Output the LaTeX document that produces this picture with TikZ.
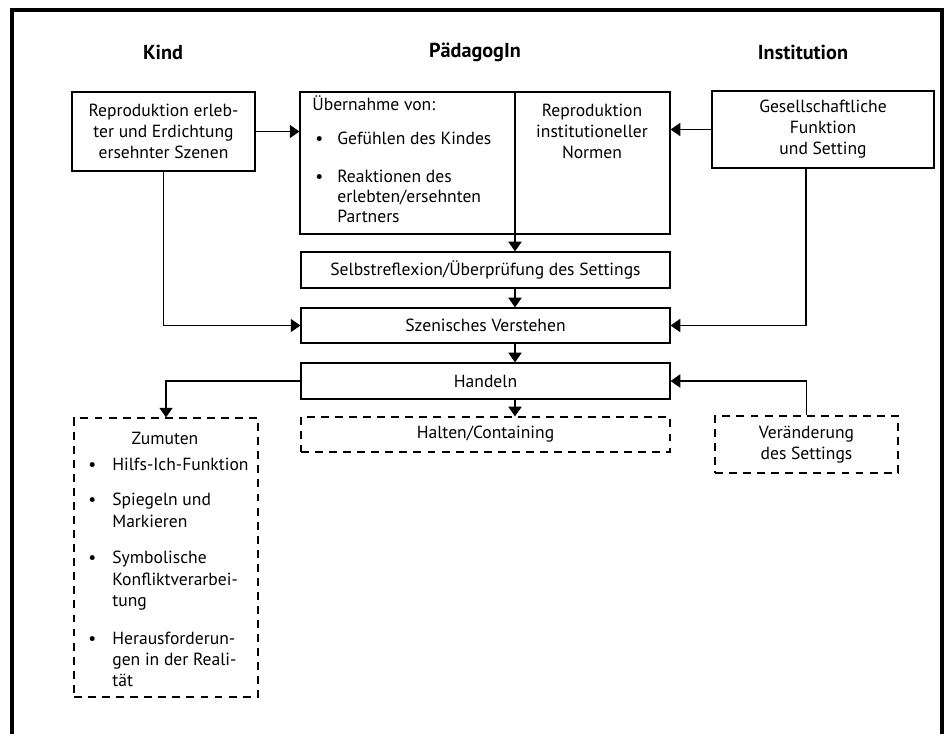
\documentclass[tikz,border=0pt]{standalone}
\usepackage{fontspec}
\setmainfont{PT Sans}
\usetikzlibrary{arrows.meta}
\newcommand\bodyfont{\fontsize{10}{12}\selectfont}
\begin{document}
\begin{tikzpicture}[x=0.02cm,y=-0.02cm,
  box/.style={draw, line width=0.7pt, inner sep=0pt, align=center, font=\bodyfont},
  dbox/.style={box, dash pattern=on 4.5pt off 3.5pt},
  head/.style={font=\fontsize{11.5}{13}\selectfont\bfseries},
  txt/.style={font=\bodyfont, inner sep=0pt, anchor=base west},
  ctxt/.style={font=\bodyfont, inner sep=0pt, align=center},
  conn/.style={line width=0.7pt},
  arr/.style={conn, -{Triangle[length=5.5pt,width=7.5pt]}},
  frame/.style={line width=2.3pt}]
\useasboundingbox (0,0) rectangle (949,734);
% outer frame
\coordinate (fbl) at (12,734);
\coordinate (ftl) at (12,10);
\coordinate (ftr) at (942,10);
\coordinate (fbr) at (942,734);
\draw[frame] (fbl) -- (ftl) -- (ftr) -- (fbr);

% headers
\node[head] (hkind) at (163,52) {Kind};
\node[head] (hped) at (475,52) {PädagogIn};
\node[head] (hinst) at (803,52) {Institution};

% top row
\node[box, minimum width=3.66cm, minimum height=1.58cm] (kid) at (163.5,131.5)
  {Reproduktion erleb-\\ter und Erdichtung\\ersehnter Szenen};
\node[box, minimum width=7.4cm, minimum height=2.84cm] (ped) at (485,163) {};
\node[box, minimum width=4.44cm, minimum height=1.54cm] (inst) at (823,129.5)
  {Gesellschaftliche\\Funktion\\und Setting};

% contents of the PädagogIn box
\node[txt] (p0) at (312,110) {Übernahme von:};
\node[txt] (pb1) at (315,144) {•};
\node[txt] (p1) at (337,144) {Gefühlen des Kindes};
\node[txt] (pb2) at (315,182) {•};
\node[txt] (p2a) at (337,182) {Reaktionen des};
\node[txt] (p2b) at (337,202) {erlebten/ersehnten};
\node[txt] (p2c) at (337,222) {Partners};
\node[ctxt] (pr) at (592,131) {Reproduktion\\institutioneller\\Normen};

% middle column
\node[box, minimum width=7.38cm, minimum height=0.72cm] (selbst) at (485.5,270)
  {Selbstreflexion/Überprüfung des Settings};
\node[box, minimum width=7.38cm, minimum height=0.7cm] (szen) at (485.5,325.5)
  {Szenisches Verstehen};
\node[box, minimum width=7.38cm, minimum height=0.72cm] (hand) at (485.5,381)
  {Handeln};
\node[dbox, minimum width=7.38cm, minimum height=0.7cm] (halten) at (485.5,434.5)
  {Halten/Containing};

% bottom side boxes
\node[dbox, minimum width=3.68cm, minimum height=5.58cm] (zum) at (166,557.5) {};
\node[dbox, minimum width=3.66cm, minimum height=1.14cm] (ver) at (806.5,444.5)
  {Veränderung\\des Settings};

% contents of the Zumuten box
\node[ctxt] (z0) at (165,438) {Zumuten};
\node[txt] (zb1) at (88,470) {•};
\node[txt] (z1) at (112,470) {Hilfs-Ich-Funktion};
\node[txt] (zb2) at (88,505) {•};
\node[txt] (z2a) at (112,505) {Spiegeln und};
\node[txt] (z2b) at (112,527) {Markieren};
\node[txt] (zb3) at (88,563) {•};
\node[txt] (z3a) at (112,563) {Symbolische};
\node[txt] (z3b) at (112,585) {Konfliktverarbei-};
\node[txt] (z3c) at (112,606) {tung};
\node[txt] (zb4) at (88,644) {•};
\node[txt] (z4a) at (112,644) {Herausforderun-};
\node[txt] (z4b) at (112,665) {gen in der Reali-};
\node[txt] (z4c) at (112,686) {tät};

% connectors
\coordinate (dv) at (515,0);
\coordinate (rv) at (806,0);
\draw[arr] (kid.east) -- (kid.east -| ped.west);
\draw[arr] (inst.west) -- (inst.west -| ped.east);
\draw[arr] (ped.north -| dv) -- (selbst.north -| dv);
\draw[arr] (selbst.south -| dv) -- (szen.north -| dv);
\draw[arr] (szen.south -| dv) -- (hand.north -| dv);
\draw[arr] (hand.south -| dv) -- (halten.north -| dv);
\draw[arr] (kid.south) |- (szen.west);
\draw[arr] (inst.south -| rv) |- (szen.east);
\draw[arr] (hand.west) -| (zum.north);
\draw[arr] (ver.north) |- (hand.east);
\end{tikzpicture}
\end{document}
